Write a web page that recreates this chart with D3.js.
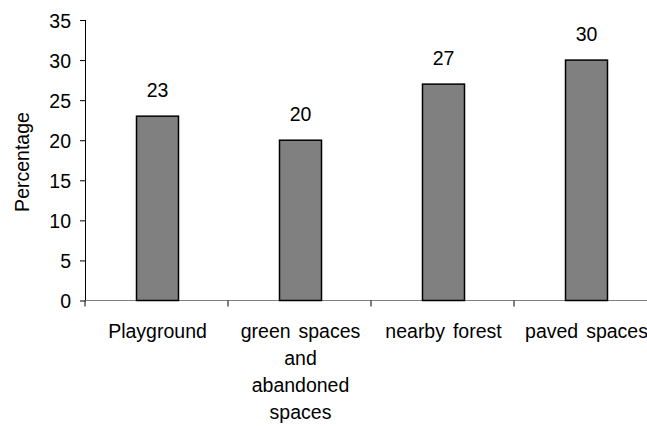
<!DOCTYPE html>
<html>
<head>
<meta charset="utf-8">
<script src="https://cdn.jsdelivr.net/npm/d3@7/dist/d3.min.js"></script>
<style>
  html, body { margin: 0; padding: 0; background: #fff; }
  svg { display: block; }
  text { font-family: Arial, "Liberation Sans", sans-serif; fill: #000; }
</style>
</head>
<body>
<svg id="chart" width="647" height="426"></svg>
<script>
const categories = ["Playground", "green spaces and abandoned spaces", "nearby forest", "paved spaces"];
const labelLines = [["Playground"], ["green spaces", "and", "abandoned", "spaces"], ["nearby forest"], ["paved spaces"]];
const values = [23, 20, 27, 30];
const yTicks = [0, 5, 10, 15, 20, 25, 30, 35];
const yTitle = "Percentage";

const svg = d3.select("#chart");
const fs = 19.5;

const y = d3.scaleLinear().domain([0, 35]).range([300.5, 20]);
const x = d3.scaleBand().domain(categories).range([85, 657]).padding(0);
const barW = 42;

// y axis
const yAxis = d3.axisLeft(y).tickValues(yTicks).tickSize(6).tickPadding(9).tickFormat(d3.format("d"));
const gy = svg.append("g").attr("transform", "translate(86,0)").call(yAxis);
gy.select(".domain").attr("stroke", "#000").attr("stroke-width", 1).attr("d", `M-0.5,${y(0)}V${y(35)}`);
gy.selectAll(".tick line").attr("stroke", "#000");
gy.selectAll(".tick text").attr("font-size", fs).attr("font-family", "Arial, 'Liberation Sans', sans-serif").attr("fill", "#000").attr("dy", "0.36em");

// x axis
const gx = svg.append("g").attr("transform", `translate(0,${y(0)})`);
gx.append("line").attr("x1", 80).attr("x2", 657).attr("y1", 0).attr("y2", 0).attr("stroke", "#808080").attr("stroke-width", 1.2);
const bounds = categories.map(c => x(c)).concat([x(categories[categories.length - 1]) + x.bandwidth()]);
gx.selectAll("line.tk").data(bounds).join("line").attr("class", "tk")
  .attr("x1", d => d).attr("x2", d => d).attr("y1", 0).attr("y2", 6)
  .attr("stroke", "#000").attr("stroke-width", 1);

// bars
svg.selectAll("rect.bar").data(values).join("rect").attr("class", "bar")
  .attr("x", (d, i) => x(categories[i]) + x.bandwidth() / 2 - barW / 2 + 1)
  .attr("width", barW)
  .attr("y", d => y(d))
  .attr("height", d => y(0) - y(d))
  .attr("fill", "#808080")
  .attr("stroke", "#000")
  .attr("stroke-width", 1.5);

// value labels
svg.selectAll("text.val").data(values).join("text").attr("class", "val")
  .attr("x", (d, i) => x(categories[i]) + x.bandwidth() / 2 + 1)
  .attr("y", d => y(d) - 19.5)
  .attr("text-anchor", "middle")
  .attr("font-size", fs)
  .text(d => d);

// category labels
categories.forEach((c, i) => {
  const cx = x(c) + x.bandwidth() / 2 + 1;
  const t = svg.append("text")
    .attr("x", cx)
    .attr("y", 337.5)
    .attr("text-anchor", "middle")
    .attr("font-size", fs)
    .attr("word-spacing", 2.5);
  labelLines[i].forEach((ln, j) => {
    t.append("tspan").attr("x", cx).attr("y", 337.5 + j * 27).text(ln);
  });
});

// y title
svg.append("text")
  .attr("transform", "translate(29,162) rotate(-90)")
  .attr("text-anchor", "middle")
  .attr("font-size", fs)
  .text(yTitle);
</script>
</body>
</html>
